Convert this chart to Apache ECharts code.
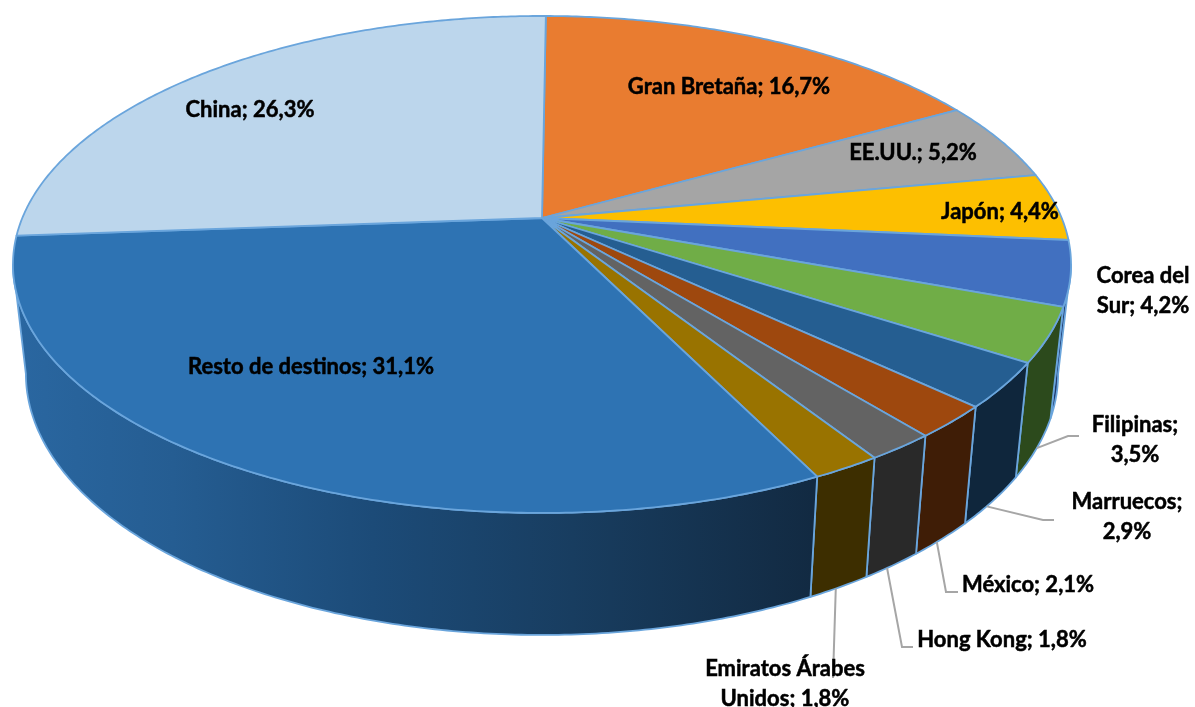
<!DOCTYPE html>
<html><head><meta charset="utf-8">
<style>html,body{margin:0;padding:0;background:#fff}#c{width:1195px;height:707px}</style>
<script src="https://cdn.jsdelivr.net/npm/echarts@6/dist/echarts.min.js"></script>
</head><body><div id="c"></div>
<script>
const categories = ['Gran Bretaña','EE.UU.','Japón','Corea del\nSur','Filipinas','Marruecos','México','Hong Kong','Emiratos Árabes\nUnidos','Resto de destinos','China'];
const values = [16.7,5.2,4.4,4.2,3.5,2.9,2.1,1.8,1.8,31.1,26.3];
const separators = ['; ','; ','; ','; ',';\n',';\n','; ','; ','; ','; ','; '];
const topColors = ['#e97c30','#a5a5a5','#fdbf00','#4170c0','#70ad47','#255e91','#9e480e','#636363','#997300','#2e73b3','#bcd6ec'];
const sideColors = ['#8a4a1d','#636363','#987300','#203a6e','#2c4a1c','#0f263c','#3f1d06','#292929','#3d2e00',null,'#70808e'];
// label centres (px) and leader elbows (px); null = no leader
const labelCentres = [[729,87],[913,153],[1000,212],[1143,291],[1135,440],[1127,517],[1028,585],[1002,640],[785,684],[311,367],[250,110]];
const leaderElbows = [null,null,null,null,[[1068,436],[1079,436]],[[1043,520],[1054,520]],[[946,592],[958,592]],[[902,647],[913,647]],[[833,678]],null,null];
const leaderShift = [0,0,0,0,0.5,0.62,0.6,0.6,0.56,0,0];

const GEO = {cx:542, cy:218, rx:519.7, ry:239.8, k:0.187, startDeg:0.5, lowCy:325, lowRx:507, lowRy:252};
const total = values.reduce((a,b)=>a+b,0);
const cum = [0]; values.forEach((v,i)=>cum.push(cum[i]+v));
const aRight = Math.acos(-GEO.k), aLeft = 2*Math.PI-aRight; // silhouette angles
function angOf(p){return (GEO.startDeg + p/total*360)*Math.PI/180;}
function topPt(a){
  const u=Math.sin(a), v=-Math.cos(a), d=1-GEO.k*v;
  return [GEO.cx+GEO.rx*u/d, GEO.cy+GEO.ry*v/d];
}
function lowPt(a){
  const u=Math.sin(a), v=-Math.cos(a), d=1-GEO.k*v;
  return [GEO.cx+GEO.lowRx*u/d, GEO.lowCy+GEO.lowRy*v/d];
}
function arc(a0,a1,fn){
  const n=Math.max(2,Math.ceil((a1-a0)/0.01)), r=[];
  for(let j=0;j<=n;j++) r.push(fn(a0+(a1-a0)*j/n));
  return r;
}
const edge='#6aa5dc';
const restoGrad = new echarts.graphic.LinearGradient(13,0,812,0,[
  {offset:0,color:'#2a67a1'},{offset:0.2,color:'#255d92'},{offset:0.45,color:'#1c4b78'},
  {offset:0.7,color:'#183d60'},{offset:1,color:'#122a42'}],true);

function renderSide(params,api){
  const i=api.value(0);
  const a0=Math.max(angOf(cum[i]),aRight), a1=Math.min(angOf(cum[i+1]),aLeft);
  if(a1<=a0) return {type:'group',children:[]};
  const pts=arc(a0,a1,topPt).concat(arc(a0,a1,lowPt).reverse());
  return {type:'polygon',shape:{points:pts},
    style:{fill:sideColors[i]||restoGrad,stroke:edge,lineWidth:1.8,lineJoin:'round'}};
}
function renderTop(params,api){
  const i=api.value(0);
  const pts=[[GEO.cx,GEO.cy]].concat(arc(angOf(cum[i]),angOf(cum[i+1]),topPt));
  return {type:'polygon',shape:{points:pts},
    style:{fill:topColors[i],stroke:edge,lineWidth:1.8,lineJoin:'round'}};
}
function renderLeader(params,api){
  const i=api.value(0);
  if(!leaderElbows[i]) return {type:'group',children:[]};
  const s=lowPt(angOf(cum[i]+values[i]*leaderShift[i]));
  return {type:'polyline',shape:{points:[s].concat(leaderElbows[i])},
    style:{fill:null,stroke:'#a6a6a6',lineWidth:2}};
}
function renderLabel(params,api){
  const i=api.value(0);
  const t=categories[i]+separators[i]+values[i].toFixed(1).replace('.',',')+'%';
  return {type:'text',x:labelCentres[i][0],y:labelCentres[i][1],
    style:{text:t,align:'center',verticalAlign:'middle',fill:'#000',stroke:'#000',lineWidth:0.5,
      font:'bold 22px Lato, "Open Sans", sans-serif',lineHeight:30}};
}
const data=values.map((v,i)=>[i,v]);
const mk=(fn,z)=>({type:'custom',coordinateSystem:'none',renderItem:fn,data:data,z:z,silent:true,animation:false,clip:false});
const chart=echarts.init(document.getElementById('c'),null,{renderer:'canvas'});
chart.setOption({animation:false,backgroundColor:'#fff',
  series:[mk(renderSide,1),mk(renderTop,2),mk(renderLeader,3),mk(renderLabel,4)]});
</script></body></html>
